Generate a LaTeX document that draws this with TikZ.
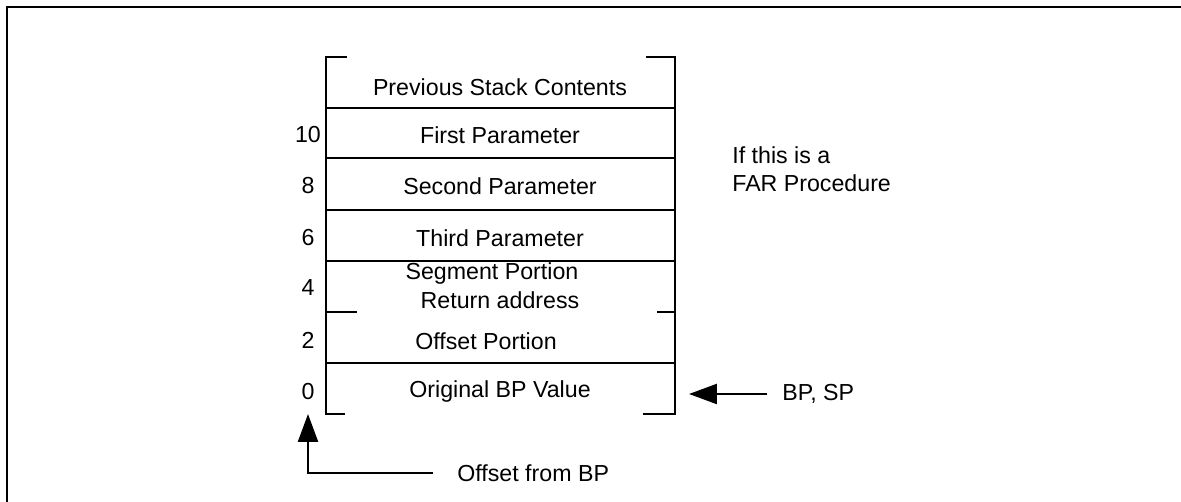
\documentclass[tikz,border=0pt]{standalone}
\usepackage{fontspec}
\setmainfont{Liberation Sans}
\usetikzlibrary{arrows.meta}

\tikzset{
	cell/.style={inner sep=0, font=\fontsize{13.2}{15}\selectfont},
	offnum/.style={inner sep=0, font=\fontsize{13.2}{15}\selectfont},
	stackline/.style={line width=1.4pt},
	bigarrow/.style={line width=1.4pt, -{Triangle[length=0.56cm, width=0.4cm]}}
}

\begin{document}
\begin{tikzpicture}[x=0.02cm, y=-0.02cm]
	\useasboundingbox (0,0) rectangle (1181,502);
	% Outer frame:
	\draw[line width=1pt] (7,502) |- (1181,7);
	% Stack outline, separators and brackets:
	\draw[stackline] (347,57) -| (326,414) -- (345,414);
	\draw[stackline] (646,57) -| (675,414) -- (643,414);
	\draw[stackline] (326,108) -- (675,108);
	\draw[stackline] (326,158) -- (675,158);
	\draw[stackline] (326,210) -- (675,210);
	\draw[stackline] (326,261) -- (675,261);
	\draw[stackline] (326,312) -- (357,312);
	\draw[stackline] (657,312) -- (675,312);
	\draw[stackline] (326,363) -- (675,363);
	% Cell contents:
	\node[cell] (prev) at (500,87) {Previous Stack Contents};
	\node[cell] (first) at (500,135) {First Parameter};
	\node[cell] (second) at (500,186) {Second Parameter};
	\node[cell] (third) at (500,238) {Third Parameter};
	\node[cell] (seg) at (492,274) {Segment Portion};
	\node[cell] (ret) at (500,300) {Return address};
	\node[cell] (offp) at (486,341) {Offset Portion};
	\node[cell] (obp) at (500,392) {Original BP Value};
	% Offsets:
	\node[offnum] (o10) at (308,135) {10};
	\node[offnum] (o8) at (308,186) {8};
	\node[offnum] (o6) at (308,238) {6};
	\node[offnum] (o4) at (308,288) {4};
	\node[offnum] (o2) at (308,340) {2};
	\node[offnum] (o0) at (308,392) {0};
	% Side notes and arrows:
	\node[cell, anchor=west, align=left] (far) at (732,169) {If this is a\\[1pt]FAR Procedure};
	\node[cell, anchor=west] (bpsp) at (782,394) {BP, SP};
	\coordinate (bpsptail) at (767,394);
	\coordinate (bpsptip) at (689,394);
	\draw[bigarrow] (bpsptail) -- (bpsptip);
	\node[cell, anchor=west] (offs) at (457,473) {Offset from BP};
	\coordinate (offscorner) at (433,473);
	\coordinate (offstip) at (308,414);
	\draw[bigarrow] (offscorner) -| (offstip);
\end{tikzpicture}
\end{document}
